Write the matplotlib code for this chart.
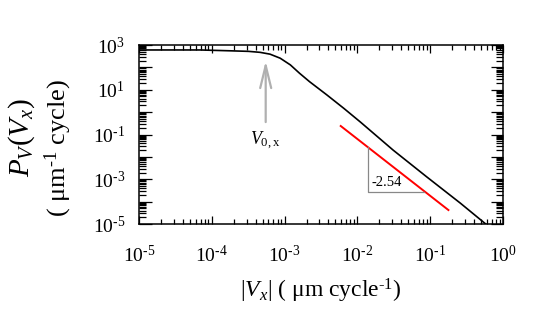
import numpy as np
import matplotlib
matplotlib.use("Agg")
import matplotlib.pyplot as plt
from matplotlib.ticker import LogLocator, FuncFormatter, NullFormatter

plt.rcParams['font.family'] = ['Liberation Serif', 'DejaVu Serif']
plt.rcParams['mathtext.fontset'] = 'custom'
plt.rcParams['mathtext.rm'] = 'Liberation Serif'
plt.rcParams['mathtext.it'] = 'Liberation Serif:italic'

# curve
vx = [1e-5, 6.9e-5, 1.8e-4, 3.2e-4, 4.6e-4, 6.3e-4, 8.7e-4, 1.2e-3, 1.6e-3, 2.2e-3,
      3.8e-3, 6.5e-3, 1.1e-2, 3.1e-2, 8.9e-2, 0.26, 0.6]
pv = [600, 600, 550, 520, 470, 390, 257, 129, 55, 23, 5.9, 1.48, 0.36,
      2.0e-2, 1.3e-3, 8.5e-5, 9.1e-6]

# fitted slope line
fit_x = [5.9e-3, 0.178]
fit_y = [0.24, 4.2e-5]
slope_label = "-2.54"

# slope triangle corners
tri_x = [0.014, 0.014, 0.0818]
tri_y = [0.028, 2.8e-4, 2.8e-4]

# V0 arrow
v0 = 5.5e-4
arrow_tip = 260
arrow_tail = 0.27

fig = plt.figure(figsize=(5.45, 3.27), dpi=100)
ax = fig.add_axes([139/545, 1-224/327, 364/545, 179/327])

ax.plot(vx, pv, color='black', lw=1.2)
ax.plot(fit_x, fit_y, color='red', lw=1.4)
ax.plot(tri_x, tri_y, color='#888888', lw=0.9)
ax.text(0.0158, 6.9e-4, slope_label, fontsize=10.5, ha='left', va='center')

ax.annotate('', xy=(v0, arrow_tip), xytext=(v0, arrow_tail),
            arrowprops=dict(arrowstyle='->, head_length=0.9, head_width=0.22',
                            color='#b0b0b0', lw=1.6, mutation_scale=18))
ax.text(v0, 0.05, r'$V_{\mathrm{0,x}}$', fontsize=13, ha='center', va='center')

ax.set_xscale('log')
ax.set_yscale('log')
ax.set_xlim(1e-5, 1)
ax.set_ylim(1e-5, 1e3)

ax.xaxis.set_major_locator(LogLocator(base=10, numticks=10))
ax.xaxis.set_minor_locator(LogLocator(base=10, subs=np.arange(2, 10), numticks=20))
ax.yaxis.set_major_locator(LogLocator(base=10, numticks=20))
ax.yaxis.set_minor_locator(LogLocator(base=10, subs=np.arange(2, 10), numticks=40))


def xfmt(v, pos):
    e = int(round(np.log10(v)))
    return r'$\mathrm{10}^{\text{%d}}$' % e


def yfmt(v, pos):
    e = int(round(np.log10(v)))
    if e % 2 == 0:
        return ''
    return r'$\mathrm{10}^{\text{%d}}$' % e


ax.xaxis.set_major_formatter(FuncFormatter(xfmt))
ax.yaxis.set_major_formatter(FuncFormatter(yfmt))
ax.xaxis.set_minor_formatter(NullFormatter())
ax.yaxis.set_minor_formatter(NullFormatter())

ax.tick_params(axis='both', which='both', direction='in', top=True, right=True,
               labelsize=14, width=0.9)
ax.tick_params(axis='x', which='major', length=6, pad=15)
ax.tick_params(axis='x', which='minor', length=3.5)
ax.tick_params(axis='y', which='major', length=9, pad=10)
ax.tick_params(axis='y', which='minor', length=5)
for s in ax.spines.values():
    s.set_linewidth(1.1)

ax.set_xlabel(r'$|V_x|$ ( μm cycle$^{\text{-1}}$)', fontsize=17, labelpad=8)

fig.text(22/545, 1-138/327, r'$P_V(V_x)$', rotation=90, fontsize=21,
         ha='center', va='center')
fig.text(58/545, 1-148/327, r'( μm$^{\text{-1}}$ cycle)', rotation=90, fontsize=19,
         ha='center', va='center')

fig.savefig('out.png', dpi=100)
